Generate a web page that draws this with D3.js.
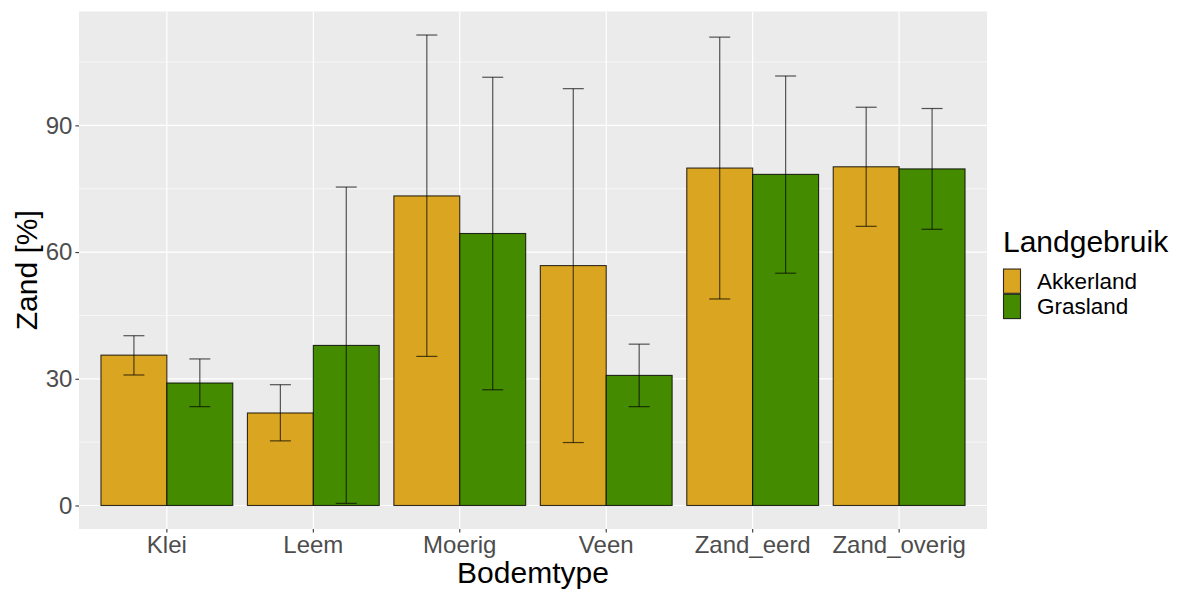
<!DOCTYPE html>
<html>
<head>
<meta charset="utf-8">
<script src="https://cdn.jsdelivr.net/npm/d3@7"></script>
<style>
  html, body { margin: 0; padding: 0; background: #fff; }
  svg { display: block; }
  text { font-family: "Liberation Sans", Arial, sans-serif; }
</style>
</head>
<body>
<div id="chart"></div>
<script>
const categories = ["Klei", "Leem", "Moerig", "Veen", "Zand_eerd", "Zand_overig"];
const groups = ["Akkerland", "Grasland"];
const akkerland     = [35.6, 21.9, 73.3, 56.8, 79.9, 80.2];
const akkerlandLow  = [30.9, 15.3, 35.3, 14.9, 48.9, 66.1];
const akkerlandHigh = [40.2, 28.6, 111.4, 98.7, 110.9, 94.3];
const grasland      = [29.0, 37.9, 64.4, 30.8, 78.4, 79.7];
const graslandLow   = [23.4, 0.5, 27.4, 23.4, 55.0, 65.4];
const graslandHigh  = [34.7, 75.4, 101.4, 38.2, 101.7, 94.0];
const yTicks = [0, 30, 60, 90];
const yMinor = [15, 45, 75, 105];
const colors = {Akkerland: "#DAA520", Grasland: "#458B00"};

const W = 1188, H = 590;
const panel = {left: 79, top: 11.5, right: 987, bottom: 529};

const rows = [];
categories.forEach((c, i) => {
  rows.push({cat: c, grp: "Akkerland", v: akkerland[i], lo: akkerlandLow[i], hi: akkerlandHigh[i]});
  rows.push({cat: c, grp: "Grasland", v: grasland[i], lo: graslandLow[i], hi: graslandHigh[i]});
});

const svg = d3.select("#chart").append("svg").attr("width", W).attr("height", H);

const x = d3.scaleBand().domain(categories).range([panel.left, panel.right])
  .paddingInner(0.1).paddingOuter(0.15);
const xg = d3.scaleBand().domain(groups).range([0, x.bandwidth()]).padding(0);
const y = d3.scaleLinear().domain([-5.57, 116.97]).range([panel.bottom, panel.top]);

// panel background
svg.append("rect").attr("x", panel.left).attr("y", panel.top)
  .attr("width", panel.right - panel.left).attr("height", panel.bottom - panel.top)
  .attr("fill", "#EBEBEB");

// minor grid
svg.append("g").selectAll("line").data(yMinor).join("line")
  .attr("x1", panel.left).attr("x2", panel.right)
  .attr("y1", d => y(d)).attr("y2", d => y(d))
  .attr("stroke", "#fff").attr("stroke-width", 0.6);
// major grid
svg.append("g").selectAll("line").data(yTicks).join("line")
  .attr("x1", panel.left).attr("x2", panel.right)
  .attr("y1", d => y(d)).attr("y2", d => y(d))
  .attr("stroke", "#fff").attr("stroke-width", 1.2);
svg.append("g").selectAll("line").data(categories).join("line")
  .attr("x1", d => x(d) + x.bandwidth() / 2).attr("x2", d => x(d) + x.bandwidth() / 2)
  .attr("y1", panel.top).attr("y2", panel.bottom)
  .attr("stroke", "#fff").attr("stroke-width", 1.2);

// bars
svg.append("g").selectAll("rect").data(rows).join("rect")
  .attr("x", d => x(d.cat) + xg(d.grp))
  .attr("y", d => y(d.v))
  .attr("width", xg.bandwidth())
  .attr("height", d => y(0) - y(d.v))
  .attr("fill", d => colors[d.grp])
  .attr("stroke", "#000").attr("stroke-opacity", 0.8).attr("stroke-width", 1.1);

// error bars
const capW = 10.5;
const eb = svg.append("g").attr("stroke", "#000").attr("stroke-opacity", 0.65).attr("stroke-width", 1.2);
rows.forEach(d => {
  const cx = x(d.cat) + xg(d.grp) + xg.bandwidth() / 2;
  eb.append("line").attr("x1", cx).attr("x2", cx).attr("y1", y(d.lo)).attr("y2", y(d.hi));
  eb.append("line").attr("x1", cx - capW).attr("x2", cx + capW).attr("y1", y(d.lo)).attr("y2", y(d.lo));
  eb.append("line").attr("x1", cx - capW).attr("x2", cx + capW).attr("y1", y(d.hi)).attr("y2", y(d.hi));
});

// axes
const yAxis = d3.axisLeft(y).tickValues(yTicks).tickSize(3.6).tickPadding(3);
const gy = svg.append("g").attr("transform", `translate(${panel.left},0)`).call(yAxis);
gy.select(".domain").remove();
gy.selectAll(".tick line").attr("stroke", "#333").attr("stroke-width", 1.1);
gy.selectAll(".tick text").attr("fill", "#4D4D4D").attr("font-size", 24)
  .attr("font-family", "Liberation Sans, Arial, sans-serif");

const xAxis = d3.axisBottom(x).tickSize(3.6).tickPadding(3.8);
const gx = svg.append("g").attr("transform", `translate(0,${panel.bottom})`).call(xAxis);
gx.select(".domain").remove();
gx.selectAll(".tick line").attr("stroke", "#333").attr("stroke-width", 1.1);
gx.selectAll(".tick text").attr("fill", "#4D4D4D").attr("font-size", 24)
  .attr("font-family", "Liberation Sans, Arial, sans-serif");

// axis titles
svg.append("text").attr("x", (panel.left + panel.right) / 2).attr("y", 583)
  .attr("text-anchor", "middle").attr("font-size", 30).attr("fill", "#000").text("Bodemtype");
svg.append("text").attr("transform", `translate(36.5,${(panel.top + panel.bottom) / 2}) rotate(-90)`)
  .attr("text-anchor", "middle").attr("font-size", 30).attr("fill", "#000").text("Zand [%]");

// legend
const lg = svg.append("g");
lg.append("text").attr("x", 1003).attr("y", 251.5).attr("font-size", 30).attr("fill", "#000").text("Landgebruik");
groups.forEach((g, i) => {
  const top = 269 + i * 25.3;
  lg.append("rect").attr("x", 1003.5).attr("y", top).attr("width", 17).attr("height", 24.3)
    .attr("fill", colors[g]).attr("stroke", "#000").attr("stroke-opacity", 0.8).attr("stroke-width", 1.1);
  lg.append("text").attr("x", 1037).attr("y", top + 20).attr("font-size", 22.5).attr("fill", "#000").text(g);
});
</script>
</body>
</html>
